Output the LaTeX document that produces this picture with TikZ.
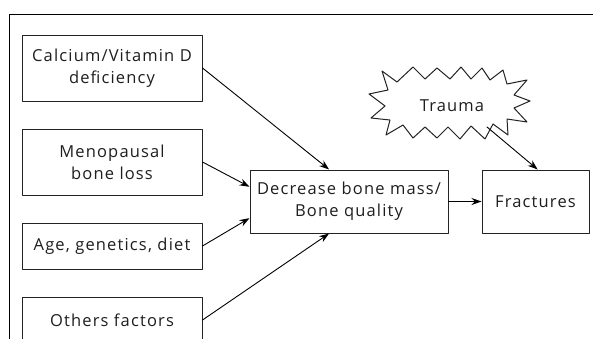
\documentclass[tikz,border=0pt]{standalone}
\usepackage{fontspec}
\setmainfont{Open Sans}[LetterSpace=7]
\usepackage{tikz}
\usetikzlibrary{calc,arrows.meta}
\definecolor{txtgray}{RGB}{30,30,30}
\definecolor{linegray}{RGB}{35,35,35}

\begin{document}
\begin{tikzpicture}[x=1pt,y=-1pt,>={Stealth[length=10pt,width=7pt]},
                line cap=round,line join=round,
                box/.style={draw=linegray,line width=1pt,minimum width=180pt,
                    align=center,text=txtgray,font=\fontsize{16.5}{22}\selectfont,inner sep=0pt},
                conn/.style={->,line width=0.9pt,draw=black}]
            \useasboundingbox (0,0) rectangle (593,338);
            \draw [line width=1pt] (9,345) -- (9,14) -- (593,14);

            \node [box,minimum height=66pt] (cal) at (112,68) {Calcium/Vitamin D\\deficiency};
            \node [box,minimum height=66pt] (meno) at (112,162) {Menopausal\\bone loss};
            \node [box,minimum height=46pt] (age) at (112,246) {Age, genetics, diet};
            \node [box,minimum height=46pt] (oth) at (112,320) {Others factors};
            \node [box,minimum width=198pt,minimum height=63pt] (dec) at (349,201.5) {Decrease bone mass/\\Bone quality};
            \node [box,minimum width=107pt,minimum height=63pt] (frac) at (535.5,201.5) {Fractures};

            % trauma burst
            \draw [line width=1pt,draw=linegray]
                (382,71) -- (397,82) -- (413,67) -- (425,79) -- (437,68) -- (450,79)
                -- (461,67) -- (471,79) -- (482,68) -- (490,80) -- (503,70) -- (507,84)
                -- (527,80) -- (514,95) -- (530,101) -- (514,108) -- (527,122) -- (507,119)
                -- (508,135) -- (493,124) -- (485,139) -- (471,126) -- (460,139) -- (448,127)
                -- (437,138) -- (425,127) -- (413,138) -- (403,125) -- (386,135) -- (390,120)
                -- (371,118) -- (385,106) -- (369,94) -- (388,90) -- cycle;
            \node [text=txtgray,font=\fontsize{16.5}{20}\selectfont] (trauma) at (452,106) {Trauma};
            \coordinate (tr) at (487,127);

            \draw [conn] (cal.east) -- ($(dec.north west)!0.4!(dec.north east)$);
            \draw [conn] (meno.east) -- ($(dec.north west)!0.27!(dec.south west)$);
            \draw [conn] (age.east) -- ($(dec.north west)!0.76!(dec.south west)$);
            \draw [conn] (oth.east) -- ($(dec.south west)!0.4!(dec.south east)$);
            \draw [conn] (dec.east) -- (frac.west);
            \draw [conn] (tr) -- ($(frac.north west)!0.52!(frac.north east)$);
        \end{tikzpicture}
\end{document}
